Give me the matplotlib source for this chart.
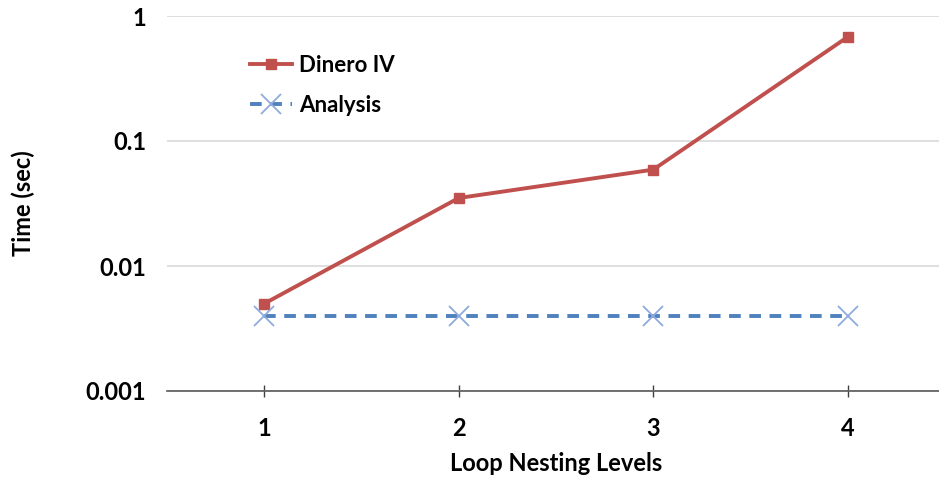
import matplotlib
matplotlib.use("Agg")
import matplotlib.pyplot as plt
from matplotlib.ticker import FixedLocator, NullLocator

levels = [1, 2, 3, 4]
dinero = [0.005, 0.035, 0.059, 0.68]
analysis = [0.004, 0.004, 0.004, 0.004]
ytick_vals = [0.001, 0.01, 0.1, 1]
ytick_labels = ["0.001", "0.01", "0.1", "1"]

plt.rcParams['font.family'] = ['Lato', 'DejaVu Sans']
plt.rcParams['font.weight'] = 'bold'

fig = plt.figure(figsize=(9.39, 4.78), dpi=100)
W, H = 939, 478
left, right = 167, 945
top, bottom = 16, 391
ax = fig.add_axes([left / W, 1 - bottom / H, (right - left) / W, (bottom - top) / H])

ax.plot(levels, dinero, color="#C0504D", lw=2.8, marker="s", ms=7,
        markerfacecolor="#C0504D", markeredgecolor="#C0504D", label="Dinero IV", zorder=3)
ax.plot(levels, analysis, color="#4F81BD", lw=2.8, ls=(0, (3, 2.2)), marker="x", ms=14,
        markeredgecolor="#8FAADC", mew=1.3, label="Analysis", zorder=3)

ax.set_yscale("log")
ax.set_ylim(0.001, 1)
ax.set_xlim(0.5, 4.5)
ax.yaxis.set_major_locator(FixedLocator(ytick_vals))
ax.yaxis.set_minor_locator(NullLocator())
ax.set_yticks(ytick_vals)
ax.set_yticklabels(ytick_labels)
ax.set_xticks(levels)
ax.set_xticklabels([str(v) for v in levels])

ax.grid(axis="y", color="#D9D9D9", lw=1.2)
ax.set_axisbelow(True)
for s in ["left", "right", "top"]:
    ax.spines[s].set_visible(False)
ax.spines["bottom"].set_color("#595959")
ax.spines["bottom"].set_linewidth(1.2)
ax.tick_params(axis="y", length=0, labelsize=17, pad=15)
ax.tick_params(axis="x", direction="inout", length=9, width=1, color="#404040", labelsize=17, pad=14)

ax.set_xlabel("Loop Nesting Levels", fontsize=17, fontweight="bold", labelpad=9)
ax.set_ylabel("Time (sec)", fontsize=17, fontweight="bold")
ax.yaxis.set_label_coords((35 - left) / (right - left), 0.5)

leg = ax.legend(loc="upper left", bbox_to_anchor=(0.081, 0.95), frameon=False,
                fontsize=16, handlelength=1.9, handletextpad=0.3, labelspacing=0.85)

fig.savefig("out.png", dpi=100)
